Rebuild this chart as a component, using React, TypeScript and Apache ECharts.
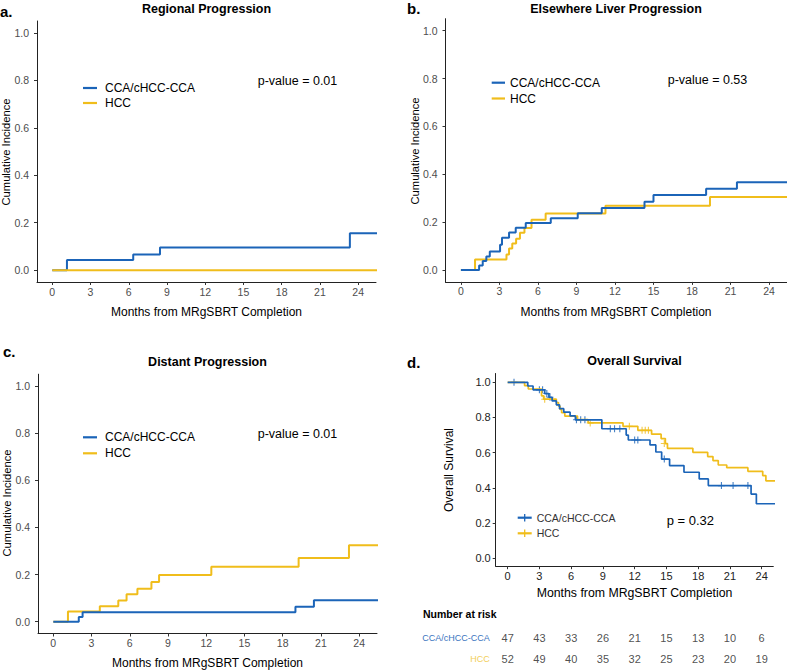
import React, { useEffect, useRef } from "react";
import * as echarts from "echarts";

// ---------- data ----------
const BLUE = "#1B64B8";
const YELLOW = "#F0BD1B";
const groups = ["CCA/cHCC-CCA", "HCC"];
const monthTicks = [0, 3, 6, 9, 12, 15, 18, 21, 24];
const probTicks = [0, 0.2, 0.4, 0.6, 0.8, 1.0];

// a. Regional progression (cumulative incidence) [month, value]
const regionalCca = [[0, 0], [1.15, 0.043], [6.35, 0.066], [8.45, 0.095], [23.35, 0.155], [26, 0.155]];
const regionalHcc = [[0, 0], [26, 0]];

// b. Elsewhere liver progression
const liverCca = [[0, 0], [1.42, 0.019], [1.7, 0.037], [1.98, 0.056], [2.25, 0.077], [3.05, 0.105], [3.2, 0.135], [3.75, 0.156], [4.27, 0.176], [5.05, 0.196], [7.0, 0.216], [9.1, 0.237], [10.97, 0.259], [14.3, 0.285], [15.0, 0.313], [19.1, 0.339], [21.5, 0.366], [26, 0.366]];
const liverHcc = [[0, 0], [1.1, 0.044], [3.55, 0.065], [3.75, 0.09], [4.0, 0.11], [4.3, 0.13], [4.6, 0.155], [4.95, 0.175], [5.5, 0.21], [6.6, 0.236], [11.26, 0.268], [19.4, 0.305], [26, 0.305]];

// c. Distant progression
const distantCca = [[0, 0], [2.0, 0.02], [2.3, 0.04], [19.0, 0.064], [20.45, 0.091], [26, 0.091]];
const distantHcc = [[0, 0], [1.15, 0.043], [3.65, 0.066], [5.1, 0.09], [5.75, 0.116], [6.6, 0.14], [7.7, 0.168], [8.3, 0.198], [12.4, 0.233], [19.25, 0.27], [23.2, 0.324], [26, 0.324]];

// d. Overall survival (Kaplan-Meier)
const osCca = [[0, 1], [1.9, 0.979], [2.4, 0.957], [3.5, 0.936], [3.9, 0.915], [4.2, 0.894], [4.6, 0.872], [4.9, 0.85], [5.3, 0.83], [5.9, 0.809], [6.4, 0.787], [8.9, 0.736], [11.2, 0.7], [11.4, 0.672], [13.45, 0.644], [14.0, 0.604], [14.55, 0.564], [15.3, 0.527], [16.66, 0.489], [18.1, 0.451], [18.96, 0.413], [23.0, 0.365], [23.5, 0.31], [26, 0.31]];
const osHcc = [[0, 1], [1.6, 0.981], [1.95, 0.962], [3.2, 0.923], [3.4, 0.904], [4.6, 0.885], [4.8, 0.865], [4.95, 0.846], [5.1, 0.827], [5.4, 0.808], [6.6, 0.788], [7.6, 0.769], [10.9, 0.75], [12.3, 0.727], [13.6, 0.705], [14.5, 0.68], [14.9, 0.652], [15.1, 0.625], [17.5, 0.602], [18.9, 0.578], [19.4, 0.555], [19.9, 0.53], [20.7, 0.515], [22.7, 0.494], [24.1, 0.47], [24.4, 0.44], [26, 0.44]];
const osCcaCensor = [[0.6, 1], [3.0, 0.957], [3.3, 0.957], [3.7, 0.936], [4.0, 0.915], [6.5, 0.787], [6.9, 0.787], [7.3, 0.787], [9.7, 0.736], [10.1, 0.736], [10.6, 0.736], [12.0, 0.672], [12.3, 0.672], [14.8, 0.564], [20.2, 0.413], [21.3, 0.413], [22.7, 0.413]];
const osHccCensor = [[3.5, 0.904], [7.8, 0.769], [11.5, 0.75], [12.7, 0.727], [13.0, 0.727], [13.3, 0.727], [14.8, 0.652]];

// number at risk
const riskTimes = [0, 3, 6, 9, 12, 15, 18, 21, 24];
const riskCca = [47, 43, 33, 26, 21, 15, 13, 10, 6];
const riskHcc = [52, 49, 40, 35, 32, 25, 23, 20, 19];

const panelTitles = ["Regional Progression", "Elsewhere Liver Progression", "Distant Progression", "Overall Survival"];
const panelLetters = ["a.", "b.", "c.", "d."];
const pTexts = ["p-value = 0.01", "p-value = 0.53", "p-value = 0.01", "p = 0.32"];
const xTitle = "Months from MRgSBRT Completion";

const FONT = "Liberation Sans, Arial, Helvetica, sans-serif";
const PLUS = "path://M0,4.2H10V5.8H0Z M4.2,0H5.8V10H4.2Z";

function xAx(gridIndex: number, min: number, max: number, margin: number, fontSize: number, color: string) {
  return {
    type: "value", gridIndex, min, max,
    axisLine: { show: true, onZero: false, lineStyle: { color: "#222", width: 1 } },
    axisTick: { show: true, length: 3, customValues: monthTicks, lineStyle: { color: "#333" } },
    axisLabel: { customValues: monthTicks, margin, fontSize, color, fontFamily: FONT },
    splitLine: { show: false },
  };
}
function yAx(gridIndex: number, min: number, max: number, margin: number, fontSize: number, color: string) {
  return {
    type: "value", gridIndex, min, max,
    axisLine: { show: true, onZero: false, lineStyle: { color: "#222", width: 1 } },
    axisTick: { show: true, length: 3, customValues: probTicks, lineStyle: { color: "#333" } },
    axisLabel: { customValues: probTicks, margin, fontSize, color, fontFamily: FONT, formatter: (v: number) => v.toFixed(1) },
    splitLine: { show: false },
  };
}
function stepLine(idx: number, data: number[][], color: string, width: number) {
  return { type: "line", xAxisIndex: idx, yAxisIndex: idx, data, step: "end", symbol: "none", clip: true, lineStyle: { color, width }, silent: true };
}
function txt(x: number, y: number, text: string, size: number, opts: any = {}) {
  return {
    type: "text", x, y, rotation: opts.rotation || 0,
    style: {
      text, fontSize: size, fontFamily: FONT, fontWeight: opts.bold ? "bold" : "normal",
      fill: opts.color || "#000", align: opts.align || "left", verticalAlign: "middle",
    },
  };
}
function keyLine(x1: number, x2: number, y: number, color: string) {
  return { type: "line", shape: { x1, y1: y, x2, y2: y }, style: { stroke: color, lineWidth: 2.2 } };
}

export default function App() {
  const ref = useRef<HTMLDivElement>(null);
  useEffect(() => {
    if (!ref.current) return;
    const chart = echarts.init(ref.current, null, { renderer: "svg" });
    const grey = "#4D4D4D";

    const graphics: any[] = [
      // panel letters
      txt(0, 11, panelLetters[0], 15, { bold: true }),
      txt(407, 8.5, panelLetters[1], 15, { bold: true }),
      txt(3, 351, panelLetters[2], 15, { bold: true }),
      txt(407, 362, panelLetters[3], 15, { bold: true }),
      // titles
      txt(206.5, 9, panelTitles[0], 12.5, { bold: true, align: "center" }),
      txt(616, 8.5, panelTitles[1], 12.5, { bold: true, align: "center" }),
      txt(207.5, 362, panelTitles[2], 12.5, { bold: true, align: "center" }),
      txt(634.5, 361, panelTitles[3], 12.5, { bold: true, align: "center" }),
      // axis titles
      txt(206.5, 312, xTitle, 12, { align: "center" }),
      txt(616, 312, xTitle, 12, { align: "center" }),
      txt(207.5, 663, xTitle, 12, { align: "center" }),
      txt(634.5, 593, xTitle, 12.3, { align: "center" }),
      txt(5.5, 152, "Cumulative Incidence", 11.2, { align: "center", rotation: Math.PI / 2 }),
      txt(415, 151, "Cumulative Incidence", 11.2, { align: "center", rotation: Math.PI / 2 }),
      txt(7, 503, "Cumulative Incidence", 11.2, { align: "center", rotation: Math.PI / 2 }),
      txt(449, 470, "Overall Survival", 12, { align: "center", rotation: Math.PI / 2 }),
      // p values
      txt(257.7, 81, pTexts[0], 12.5),
      txt(667.7, 80, pTexts[1], 12.5),
      txt(257.7, 434, pTexts[2], 12.5),
      txt(666.7, 520, pTexts[3], 13),
      // legends a
      keyLine(83, 97, 88, BLUE), txt(105, 88, groups[0], 12),
      keyLine(83, 97, 103, YELLOW), txt(105, 103, groups[1], 12),
      // legend b
      keyLine(491.7, 505, 82.7, BLUE), txt(510, 82.7, groups[0], 12),
      keyLine(491.7, 505, 98.5, YELLOW), txt(510, 98.5, groups[1], 12),
      // legend c
      keyLine(83, 97, 437.3, BLUE), txt(105, 437.3, groups[0], 12),
      keyLine(83, 97, 453.3, YELLOW), txt(105, 453.3, groups[1], 12),
      // legend d
      keyLine(517.7, 531.7, 517.7, BLUE),
      { type: "line", shape: { x1: 524.7, y1: 514, x2: 524.7, y2: 521.4 }, style: { stroke: BLUE, lineWidth: 1.3 } },
      txt(536.7, 517.7, groups[0], 10.5, { color: "#333" }),
      keyLine(517.7, 531.7, 533.3, YELLOW),
      { type: "line", shape: { x1: 524.7, y1: 529.6, x2: 524.7, y2: 537 }, style: { stroke: YELLOW, lineWidth: 1.3 } },
      txt(536.7, 533.3, groups[1], 10.5, { color: "#333" }),
      // risk table header
      txt(423, 614, "Number at risk", 10.5, { bold: true }),
    ];

    const riskSeries = (vals: number[], row: number) => ({
      type: "scatter", xAxisIndex: 4, yAxisIndex: 4, symbolSize: 1,
      itemStyle: { color: "rgba(0,0,0,0)" },
      data: riskTimes.map((t, i) => [t, row, vals[i]]),
      label: { show: true, position: "inside", formatter: (p: any) => String(p.value[2]), fontSize: 11, color: "#222", fontFamily: FONT },
      silent: true,
    });

    chart.setOption({
      animation: false,
      backgroundColor: "#fff",
      grid: [
        { left: 37, top: 21, width: 339, height: 261 },
        { left: 445.5, top: 18.7, width: 342.6, height: 263.2 },
        { left: 38, top: 374.2, width: 339, height: 259.3 },
        { left: 495.7, top: 373.5, width: 277.6, height: 192.7 },
        { left: 495.7, top: 627.6, width: 277.6, height: 46.8 },
      ],
      xAxis: [
        xAx(0, -1.2, 25.4, 4, 10.5, grey),
        xAx(1, -1.2, 25.4, 4, 10.5, grey),
        xAx(2, -1.2, 25.4, 4, 10.5, grey),
        xAx(3, -1.13, 25.1, 4, 11, "#222"),
        { type: "value", gridIndex: 4, min: -1.13, max: 25.1, show: false },
      ],
      yAxis: [
        yAx(0, -0.05, 1.05, 8, 10.5, grey),
        yAx(1, -0.05, 1.05, 8, 10.5, grey),
        yAx(2, -0.05, 1.05, 8, 10.5, grey),
        yAx(3, -0.045, 1.05, 5, 11, "#222"),
        {
          type: "category", gridIndex: 4, data: [groups[1], groups[0]],
          axisLine: { show: false }, axisTick: { show: false }, splitLine: { show: false },
          axisLabel: {
            margin: 6, fontSize: 9, fontFamily: FONT,
            formatter: (v: string) => (v === groups[0] ? `{b|${v}}` : `{y|${v}}`),
            rich: { b: { color: "#3A74C0", fontSize: 9, fontFamily: FONT }, y: { color: "#F2CF5A", fontSize: 9, fontFamily: FONT } },
          },
        },
      ],
      series: [
        stepLine(0, regionalCca, BLUE, 2),
        stepLine(0, regionalHcc, YELLOW, 2),
        stepLine(1, liverHcc, YELLOW, 2),
        stepLine(1, liverCca, BLUE, 2),
        stepLine(2, distantHcc, YELLOW, 2),
        stepLine(2, distantCca, BLUE, 2),
        stepLine(3, osHcc, YELLOW, 1.7),
        stepLine(3, osCca, BLUE, 1.7),
        { type: "scatter", xAxisIndex: 3, yAxisIndex: 3, data: osHccCensor, symbol: PLUS, symbolSize: 7, itemStyle: { color: YELLOW }, silent: true },
        { type: "scatter", xAxisIndex: 3, yAxisIndex: 3, data: osCcaCensor, symbol: PLUS, symbolSize: 7, itemStyle: { color: BLUE }, silent: true },
        riskSeries(riskCca, 1),
        riskSeries(riskHcc, 0),
      ],
      graphic: graphics,
    });
    return () => chart.dispose();
  }, []);
  return <div ref={ref} style={{ position: "absolute", left: 0, top: 0, width: 787, height: 670 }} />;
}
